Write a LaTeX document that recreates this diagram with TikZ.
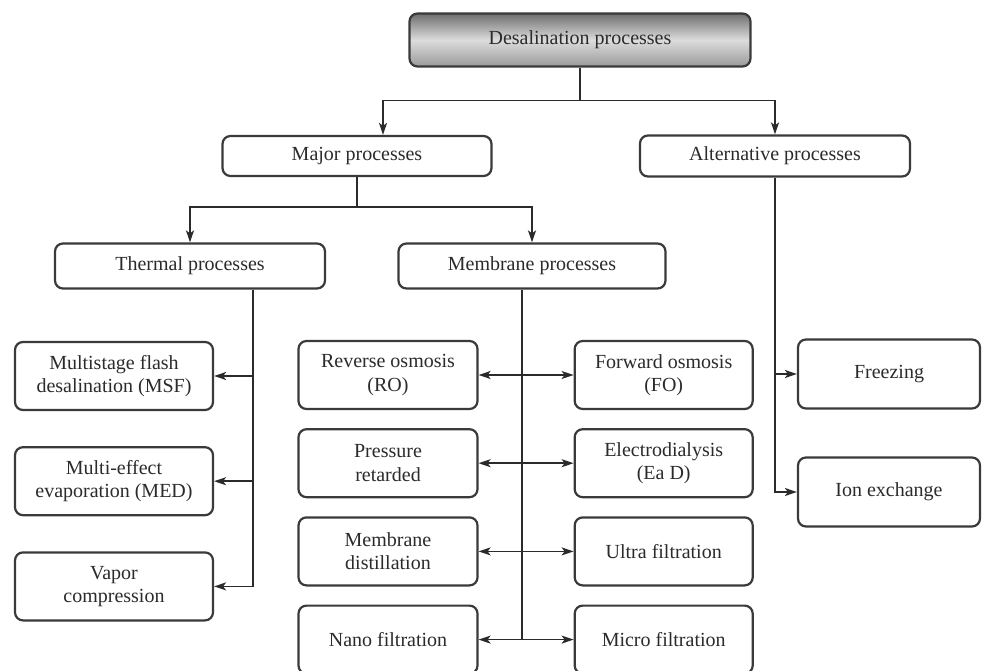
\documentclass[tikz,border=0pt]{standalone}
\usepackage{fontspec}
\setmainfont{Liberation Serif}
\usepackage{xcolor}
\usepackage{tikz}
\usetikzlibrary{arrows.meta,positioning,calc}
\definecolor{dsInk}{HTML}{2B2B2B}
\definecolor{dsEdge}{HTML}{3A3A3A}
\definecolor{dsShadeTop}{HTML}{6E6E6E}
\definecolor{dsShadeMid}{HTML}{DCDCDC}
\definecolor{dsShadeBot}{HTML}{9A9A9A}
\tikzset{
  dsbox/.style={rounded corners=8pt, draw=dsEdge, line width=2.2pt, align=center, fill=white,
                inner sep=2pt, font=\fontsize{20}{23.5}\selectfont, text=dsInk},
  dshead/.style={dsbox, top color=dsShadeTop, bottom color=dsShadeBot, middle color=dsShadeMid},
  dsleaf/.style={dsbox, minimum height=68pt},
  dsline/.style={line width=1.6pt, draw=dsInk},
  dsarr/.style={dsline, -{Stealth[length=12pt,width=8pt,inset=3pt]}},
  dsdarr/.style={dsline, {Stealth[length=12pt,width=8pt,inset=3pt]}-{Stealth[length=12pt,width=8pt,inset=3pt]}},
}
\begin{document}
\begin{tikzpicture}[x=1pt, y=-1pt, node distance=18pt]
  \useasboundingbox (0,0) rectangle (996,671);
  \node[dshead, minimum width=341pt, minimum height=53pt] (desal) at (580,40) {Desalination processes};
  \node[dsbox, minimum width=269pt, minimum height=40pt] (major) at (357,156) {Major processes};
  \node[dsbox, minimum width=270pt, minimum height=41pt] (altern) at (775,156) {Alternative processes};
  \node[dsbox, minimum width=270pt, minimum height=45pt] (thermal) at (190,266) {Thermal processes};
  \node[dsbox, minimum width=267pt, minimum height=45pt] (membr) at (532,266) {Membrane processes};

  \node[dsleaf, minimum width=198pt] (msf) at (114,376) {Multistage flash\\desalination (MSF)};
  \node[dsleaf, minimum width=198pt, below=35pt of msf] (med) {Multi-effect\\evaporation (MED)};
  \node[dsleaf, minimum width=198pt, below=35pt of med] (vapor) {Vapor\\compression};

  \node[dsleaf, minimum width=179pt] (ro) at (388,375) {Reverse osmosis\\(RO)};
  \node[dsleaf, minimum width=179pt, below=of ro] (pret) {Pressure\\retarded};
  \node[dsleaf, minimum width=179pt, below=of pret] (mdist) {Membrane\\distillation};
  \node[dsleaf, minimum width=179pt, below=of mdist] (nano) {Nano filtration};
  \node[dsleaf, minimum width=178pt, right=95pt of ro] (fo) {Forward osmosis\\(FO)};
  \node[dsleaf, minimum width=178pt, right=95pt of pret] (edial) {Electrodialysis\\(Ea D)};
  \node[dsleaf, minimum width=178pt, right=95pt of mdist] (ultra) {Ultra filtration};
  \node[dsleaf, minimum width=178pt, right=95pt of nano] (micro) {Micro filtration};

  \node[dsleaf, minimum width=182pt, minimum height=69pt] (freeze) at (889,374) {Freezing};
  \node[dsleaf, minimum width=182pt, minimum height=69pt] (ionx) at (889,492) {Ion exchange};

  \coordinate (topjoin) at ($(desal.south)+(0,33)$);
  \draw[dsline] (desal.south) -- (topjoin);
  \draw[dsarr] (topjoin) -| ([xshift=26pt]major.north);
  \draw[dsarr] (topjoin) -| (altern.north);

  \coordinate (majjoin) at ($(major.south)+(0,30)$);
  \draw[dsline] (major.south) -- (majjoin);
  \draw[dsarr] (majjoin) -| (thermal.north);
  \draw[dsarr] (majjoin) -| (membr.north);

  \coordinate (tstem) at ([xshift=63pt]thermal.south);
  \draw[dsarr] (tstem) |- (vapor.east);
  \draw[dsarr] (tstem |- msf.east) -- (msf.east);
  \draw[dsarr] (tstem |- med.east) -- (med.east);

  \coordinate (mstem) at ([xshift=-10pt]membr.south);
  \draw[dsline] (mstem) -- (mstem |- nano.east);
  \foreach \lft/\rgt in {ro/fo, pret/edial, mdist/ultra, nano/micro}
    \draw[dsdarr] (\lft.east) -- (\rgt.west);

  \draw[dsarr] (altern.south) |- (ionx.west);
  \draw[dsarr] (altern.south |- freeze.west) -- (freeze.west);
\end{tikzpicture}
\end{document}
